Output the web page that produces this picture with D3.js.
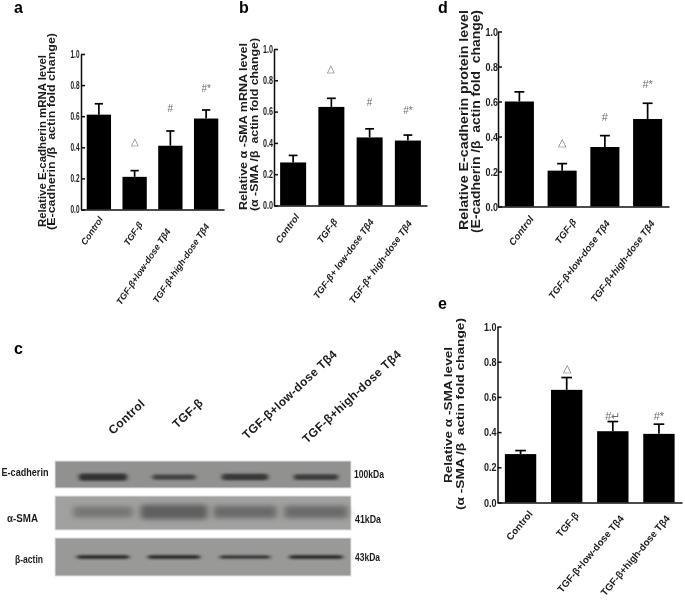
<!DOCTYPE html>
<html>
<head>
<meta charset="utf-8">
<script src="https://cdn.jsdelivr.net/npm/d3@7"></script>
<style>
  html, body { margin: 0; padding: 0; background: #fff; }
  svg { display: block; }
  text { font-family: "Liberation Sans", Arial, sans-serif; fill: #1c1c1c; }
</style>
</head>
<body>
<div id="chart"></div>
<script>
// values
var groups = ["Control", "TGF-β", "TGF-β+low-dose Tβ4", "TGF-β+high-dose Tβ4"];
var groupsSpaced = ["Control", "TGF-β", "TGF-β+ low-dose Tβ4", "TGF-β+ high-dose Tβ4"];
var yTicks = [0, 0.2, 0.4, 0.6, 0.8, 1.0];

var meanA = [0.61, 0.21, 0.41, 0.585];
var errTopA = [0.68, 0.25, 0.505, 0.64];
var marksA = ["", "△", "#", "#*"];
var markLevelA = [0, 0.44, 0.65, 0.78];

var meanB = [0.275, 0.63, 0.435, 0.415];
var errTopB = [0.32, 0.685, 0.49, 0.45];
var marksB = ["", "△", "#", "#*"];
var markLevelB = [0, 0.875, 0.66, 0.61];

var meanD = [0.6, 0.205, 0.34, 0.5];
var errTopD = [0.655, 0.245, 0.405, 0.59];
var marksD = ["", "△", "#", "#*"];
var markLevelD = [0, 0.365, 0.51, 0.7];

var meanE = [0.275, 0.64, 0.405, 0.39];
var errTopE = [0.295, 0.71, 0.46, 0.445];
var marksE = ["", "△", "#↵", "#*"];
var markLevelE = [0, 0.765, 0.49, 0.49];

// blot band density per lane
var blotRows = ["E-cadherin", "α-SMA", "β-actin"];
var blotSizes = ["100kDa", "41kDa", "43kDa"];
var densityEcad = [0.85, 0.45, 0.7, 0.55];
var densitySma = [0.3, 0.9, 0.6, 0.6];
var densityActin = [0.55, 0.55, 0.4, 0.65];

var width = 685,
    height = 603;

var svg = d3.select("#chart")
    .append("svg")
    .attr("width", width)
    .attr("height", height);

var defs = svg.append("defs");
defs.append("filter").attr("id", "soft")
    .append("feGaussianBlur").attr("stdDeviation", 0.5);
defs.append("filter").attr("id", "band")
    .attr("x", "-20%").attr("width", "140%").attr("y", "-80%").attr("height", "260%")
    .append("feGaussianBlur").attr("stdDeviation", "2.2 0.9");
defs.append("filter").attr("id", "bandWide")
    .attr("x", "-20%").attr("width", "140%").attr("y", "-80%").attr("height", "260%")
    .append("feGaussianBlur").attr("stdDeviation", "3 2.6");

var root = svg.append("g").attr("filter", "url(#soft)");

function drawPanel(p) {
    var g = root.append("g");

    var x = d3.scaleBand().domain(p.labels).range(p.xRange)
        .paddingInner(0.32).paddingOuter(0.16);
    var y = d3.scaleLinear().domain([0, 1]).range(p.yRange);

    // bars
    g.selectAll(".bar")
        .data(p.labels)
        .enter().append("rect")
        .attr("class", "bar")
        .attr("x", function (d) { return x(d); })
        .attr("width", x.bandwidth())
        .attr("y", function (d, i) { return y(p.mean[i]); })
        .attr("height", function (d, i) { return y(0) - y(p.mean[i]); })
        .attr("fill", "#000");

    // error bars, only the upper half shows
    var err = g.selectAll(".err")
        .data(p.labels)
        .enter().append("g")
        .attr("class", "err")
        .attr("stroke", "#000")
        .attr("stroke-width", 1.7);
    err.append("line")
        .attr("x1", function (d) { return x(d) + x.bandwidth() / 2; })
        .attr("x2", function (d) { return x(d) + x.bandwidth() / 2; })
        .attr("y1", function (d, i) { return y(p.mean[i]); })
        .attr("y2", function (d, i) { return y(p.errTop[i]); });
    err.append("line")
        .attr("x1", function (d) { return x(d) + x.bandwidth() * 0.33; })
        .attr("x2", function (d) { return x(d) + x.bandwidth() * 0.67; })
        .attr("y1", function (d, i) { return y(p.errTop[i]); })
        .attr("y2", function (d, i) { return y(p.errTop[i]); });

    // significance marks
    g.selectAll(".mark")
        .data(p.labels)
        .enter().append("text")
        .attr("class", "mark")
        .attr("x", function (d) { return x(d) + x.bandwidth() / 2; })
        .attr("y", function (d, i) { return y(p.markLevel[i]); })
        .attr("dy", "0.35em")
        .attr("text-anchor", "middle")
        .attr("font-size", p.markSize)
        .style("fill", "#6e6e6e")
        .text(function (d, i) { return p.marks[i]; });

    // axes, ticks point inwards
    var yAxis = g.append("g")
        .attr("transform", "translate(" + p.xRange[0] + ",0)")
        .call(d3.axisLeft(y).tickValues(yTicks).tickFormat(d3.format(".1f"))
            .tickSizeInner(-4).tickSizeOuter(0).tickPadding(p.tickPad));
    yAxis.selectAll("path, line").attr("stroke", "#111").attr("stroke-width", 1.5);
    yAxis.selectAll("text")
        .attr("font-size", p.tickSize)
        .attr("font-weight", "bold")
        .attr("textLength", p.tickWidth)
        .attr("lengthAdjust", "spacingAndGlyphs");

    var xAxis = g.append("g")
        .attr("transform", "translate(0," + p.yRange[0] + ")")
        .call(d3.axisBottom(x).tickSize(0).tickPadding(0));
    xAxis.select("path").attr("stroke", "#111").attr("stroke-width", 1.5);
    xAxis.selectAll("text")
        .attr("transform", function (d, i) {
            return "translate(" + p.labelDx[i] + "," + p.labelDy[i] + ") rotate(" + p.labelAngle + ")";
        })
        .attr("x", 0).attr("y", 0).attr("dy", "0.35em")
        .attr("text-anchor", "end")
        .attr("font-size", p.labelSize)
        .attr("font-weight", "bold")
        .attr("font-style", p.labelStyle);

    // y title, two lines, both start near the axis foot
    p.title.forEach(function (line, i) {
        g.append("text")
            .attr("transform", "translate(" + p.titleX[i] + "," + p.titleY[i] + ") rotate(-90)")
            .attr("font-size", p.titleSize)
            .attr("font-weight", "bold")
            .attr("textLength", p.titleLen[i])
            .attr("lengthAdjust", "spacingAndGlyphs")
            .style("white-space", "pre")
            .text(line);
    });
}

drawPanel({
    labels: groups, mean: meanA, errTop: errTopA, marks: marksA, markLevel: markLevelA,
    xRange: [81, 224], yRange: [209.5, 54],
    markSize: 10, tickSize: 10.5, tickWidth: 9, tickPad: 1.5,
    labelDx: [2, 6, -2, 1], labelDy: [8, 13, 20, 15], labelAngle: -56, labelSize: 9, labelStyle: "italic",
    title: ["Relative E-cadherin mRNA level", "(E-cadherin /β  actin fold change)"],
    titleX: [46, 55], titleY: [227, 230], titleLen: [172, 197], titleSize: 10
});

drawPanel({
    labels: groupsSpaced, mean: meanB, errTop: errTopB, marks: marksB, markLevel: markLevelB,
    xRange: [274, 427], yRange: [205.5, 49],
    markSize: 10, tickSize: 10.5, tickWidth: 10, tickPad: 1,
    labelDx: [4, 4, 2, 2], labelDy: [9.5, 14, 14.5, 16], labelAngle: -54, labelSize: 9.4, labelStyle: "italic",
    title: ["Relative α -SMA mRNA level", "(α -SMA /β  actin fold change)"],
    titleX: [246.5, 258], titleY: [210, 211], titleLen: [167, 173], titleSize: 10
});

drawPanel({
    labels: groups, mean: meanD, errTop: errTopD, marks: marksD, markLevel: markLevelD,
    xRange: [498, 669], yRange: [206.5, 31.5],
    markSize: 11, tickSize: 11, tickWidth: 12.5, tickPad: 0,
    labelDx: [12, 12, 3, 5], labelDy: [10.5, 13.5, 15, 15], labelAngle: -53, labelSize: 9.6, labelStyle: "italic",
    title: ["Relative E-cadherin protein level", "(E-cadherin /β  actin fold  change)"],
    titleX: [468, 480], titleY: [230, 233], titleLen: [220, 223], titleSize: 12
});

drawPanel({
    labels: groups, mean: meanE, errTop: errTopE, marks: marksE, markLevel: markLevelE,
    xRange: [497.5, 682], yRange: [502.5, 326.5],
    markSize: 11, tickSize: 11, tickWidth: 12.5, tickPad: 1,
    labelDx: [10, 10, 9, 9], labelDy: [9.5, 11, 14, 14], labelAngle: -50, labelSize: 9.8, labelStyle: "normal",
    title: ["Relative α -SMA level", "(α -SMA /β  actin fold change)"],
    titleX: [452, 464], titleY: [483, 510], titleLen: [136, 192], titleSize: 11
});

// panel letters
var letters = ["a", "b", "c", "d", "e"];
var letterX = d3.scaleOrdinal().domain(letters).range([14, 239, 14, 438, 438]);
var letterY = d3.scaleOrdinal().domain(letters).range([13, 13, 354, 13, 309]);
root.selectAll(".letter")
    .data(letters)
    .enter().append("text")
    .attr("class", "letter")
    .attr("x", function (d) { return letterX(d); })
    .attr("y", function (d) { return letterY(d); })
    .attr("font-size", 16)
    .attr("font-weight", "bold")
    .style("fill", "#000")
    .text(function (d) { return d; });

// western blot, panel c
var lanes = d3.scalePoint().domain(groups).range([103, 316]);

var blotLayout = [
    { top: 461, bottom: 488, mid: 477, bg: "#919190", density: densityEcad, thick: [3, 8], tone: ["#555", "#2b2b2b"], len: [38, 50], filter: "url(#band)",
      labelX: 1.5, labelLen: 47, labelY: 472, sizeX: 354, sizeLen: 30, sizeY: 474 },
    { top: 496, bottom: 530, mid: 512, bg: "#a1a19f", density: densitySma, thick: [9, 15], tone: ["#828282", "#5a5a5a"], len: [56, 68], filter: "url(#bandWide)",
      labelX: 7, labelLen: 31, labelY: 518, sizeX: 355, sizeLen: 26, sizeY: 519 },
    { top: 538, bottom: 576, mid: 557, bg: "#999997", density: densityActin, thick: [2.5, 4], tone: ["#363636", "#1c1c1c"], len: [46, 58], filter: "url(#band)",
      labelX: 15, labelLen: 28, labelY: 559, sizeX: 355, sizeLen: 25, sizeY: 557 }
];

blotLayout.forEach(function (row, r) {
    var g = root.append("g");
    var thick = d3.scaleLinear().domain([0, 1]).range(row.thick);
    var tone = d3.scaleLinear().domain([0, 1]).range(row.tone);
    var len = d3.scaleLinear().domain([0, 1]).range(row.len);

    g.append("rect")
        .attr("x", 55).attr("y", row.top)
        .attr("width", 296).attr("height", row.bottom - row.top)
        .attr("fill", row.bg)
        .attr("stroke", "#e2e2e0")
        .attr("stroke-width", 1);

    g.selectAll(".lane")
        .data(row.density)
        .enter().append("rect")
        .attr("class", "lane")
        .attr("x", function (d, i) { return lanes(groups[i]) - len(d) / 2; })
        .attr("y", function (d) { return row.mid - thick(d) / 2; })
        .attr("width", function (d) { return len(d); })
        .attr("height", function (d) { return thick(d); })
        .attr("rx", 3)
        .attr("fill", function (d) { return tone(d); })
        .attr("filter", row.filter);

    root.append("text")
        .attr("x", row.labelX).attr("y", row.labelY)
        .attr("dy", "0.35em")
        .attr("font-size", 11)
        .attr("font-weight", "bold")
        .attr("textLength", row.labelLen)
        .attr("lengthAdjust", "spacingAndGlyphs")
        .text(blotRows[r]);

    root.append("text")
        .attr("x", row.sizeX).attr("y", row.sizeY)
        .attr("dy", "0.35em")
        .attr("font-size", 10.5)
        .attr("font-weight", "bold")
        .attr("textLength", row.sizeLen)
        .attr("lengthAdjust", "spacingAndGlyphs")
        .text(blotSizes[r]);
});

// lane headers start at the lower left of each lane
var headerX = d3.scaleOrdinal().domain(groups).range([113, 177, 247, 307]);
var headerY = d3.scaleOrdinal().domain(groups).range([435, 429, 440, 444]);
root.selectAll(".laneLabel")
    .data(groups)
    .enter().append("text")
    .attr("class", "laneLabel")
    .attr("transform", function (d) {
        return "translate(" + headerX(d) + "," + headerY(d) + ") rotate(-43)";
    })
    .attr("font-size", 12)
    .attr("font-weight", "bold")
    .attr("letter-spacing", 0.3)
    .text(function (d) { return d; });
</script>
</body>
</html>
